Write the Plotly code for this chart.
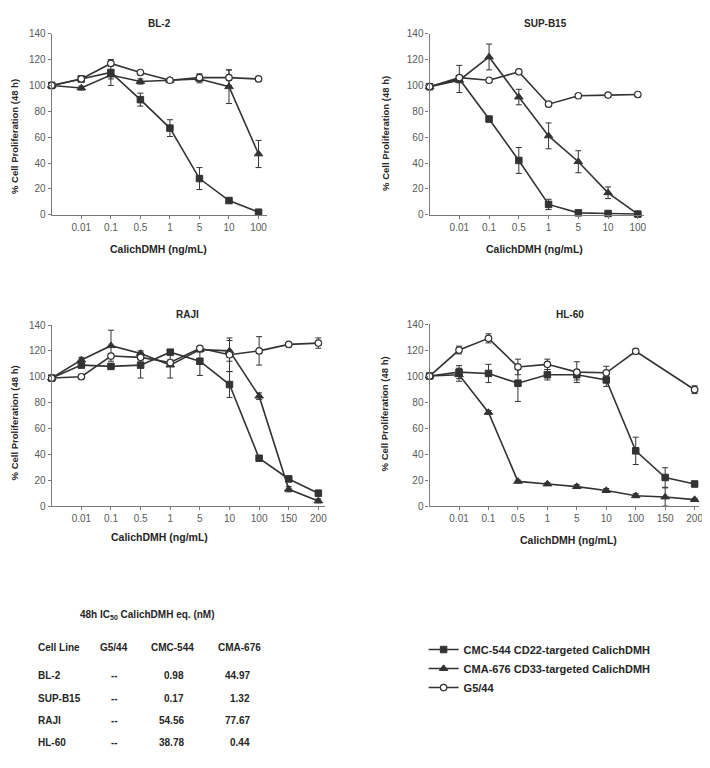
import plotly.graph_objects as go

# The page body has an 8px margin; the figure is sized so that it fits the 710x768 window.
OFF = 8
W, H = 710 - OFF, 768 - OFF

# ---------------- data ----------------
# Concentration categories (ng/mL); first category = untreated control (blank label)
conc_short = ["", "0.01", "0.1", "0.5", "1", "5", "10", "100"]
conc_long = ["", "0.01", "0.1", "0.5", "1", "5", "10", "100", "150", "200"]

# BL-2
bl2_cmc = [100, 105, 110, 89, 67, 28, 11, 2]
bl2_cmc_err = [1, 1.5, 10, 5, 6.5, 8.5, 2, 1]
bl2_cma = [100, 98, 108, 103, 104, 105, 99, 47]
bl2_cma_err = [1, 1.5, 3, 2, 1.5, 3, 13, 10.5]
bl2_g5 = [100, 105, 117, 110, 104, 106, 106, 105]
bl2_g5_err = [1, 1.5, 1.5, 1, 1, 3, 6, 1]

# SUP-B15
sup_cmc = [99, 105, 74, 42, 8, 1.5, 1, 0.5]
sup_cmc_err = [1, 10.5, 1.5, 10, 4, 1, 1, 0.5]
sup_cma = [99, 104, 122, 91, 61, 41, 17, 0.5]
sup_cma_err = [1, 2, 10, 6, 10, 8.5, 4.5, 0.5]
sup_g5 = [99, 106, 104, 110.5, 85.5, 92, 92.5, 93]
sup_g5_err = [1, 1, 1, 1, 1, 1, 1, 1]

# RAJI
raji_cmc = [99, 109, 108, 109, 119, 112, 94, 37, 21, 10]
raji_cmc_err = [1, 2, 2, 10, 2, 11, 10, 1.5, 2, 2]
raji_cma = [99, 113, 124, 118, 109, 121, 120, 85, 13, 4]
raji_cma_err = [1, 2, 12, 2, 10, 2, 8, 2.5, 2, 1.5]
raji_g5 = [99, 100, 116, 115, 111, 122, 117, 120, 125, 126]
raji_g5_err = [1, 1, 2, 2, 2, 1.5, 13, 11, 1.5, 4]

# HL-60
hl_cmc = [100, 103, 102, 94.5, 101, 101, 97, 42.5, 22, 17]
hl_cmc_err = [1, 5, 7, 14, 4, 4, 5, 10.5, 7.5, 2]
hl_cma = [100, 101, 72, 19, 17, 15, 12, 8, 7, 5]
hl_cma_err = [1, 5, 1.5, 1, 1, 1.5, 1.5, 1.5, 7, 1]
hl_g5 = [100, 120, 129, 107, 109, 103, 102.5, 119, None, 89.5]
hl_g5_err = [1, 3, 3.5, 6, 4, 8, 5, 2, 0, 3]

# IC50 table
ic50_lines = ["BL-2", "SUP-B15", "RAJI", "HL-60"]
ic50_g5 = ["--", "--", "--", "--"]
ic50_cmc = ["0.98", "0.17", "54.56", "38.78"]
ic50_cma = ["44.97", "1.32", "77.67", "0.44"]

series_names = ["CMC-544 CD22-targeted CalichDMH",
                "CMA-676 CD33-targeted CalichDMH",
                "G5/44"]

panels = [
    dict(title="BL-2", cats=conc_short, data=[(bl2_cmc, bl2_cmc_err), (bl2_cma, bl2_cma_err), (bl2_g5, bl2_g5_err)],
         x0=52, x1=268, yt=28, yb=212, xmax=7.27,
         tpos=(160, 18), xtpos=(159, 247), ytpos=(14, 132)),
    dict(title="SUP-B15", cats=conc_short, data=[(sup_cmc, sup_cmc_err), (sup_cma, sup_cma_err), (sup_g5, sup_g5_err)],
         x0=432, x1=648, yt=28, yb=212, xmax=7.22,
         tpos=(549, 18), xtpos=(538, 247), ytpos=(387, 129)),
    dict(title="RAJI", cats=conc_long, data=[(raji_cmc, raji_cmc_err), (raji_cma, raji_cma_err), (raji_g5, raji_g5_err)],
         x0=52, x1=327, yt=324, yb=508, xmax=9.23,
         tpos=(189, 313), xtpos=(160, 539), ytpos=(14, 423)),
    dict(title="HL-60", cats=conc_long, data=[(hl_cmc, hl_cmc_err), (hl_cma, hl_cma_err), (hl_g5, hl_g5_err)],
         x0=432, x1=703, yt=323, yb=508, xmax=9.15,
         tpos=(573, 313), xtpos=(572, 542), ytpos=(387, 414)),
]

LINE = "#333333"
AXIS = "#7a7a7a"
TICK = "#595959"
TXT = "#262626"
FONT = "Liberation Sans, Arial, sans-serif"

def px_x(p):
    return (p - OFF) / W

def px_y(p):
    return 1 - (p - OFF) / H

markers = [
    dict(symbol="square", size=6.5, color=LINE, line=dict(color=LINE, width=1)),
    dict(symbol="triangle-up", size=7.5, color=LINE, line=dict(color=LINE, width=1)),
    dict(symbol="circle", size=6.5, color="white", line=dict(color=LINE, width=1.2)),
]

fig = go.Figure()
annotations = []
layout_axes = {}

for i, p in enumerate(panels):
    n = i + 1
    xa = "x" if n == 1 else f"x{n}"
    ya = "y" if n == 1 else f"y{n}"
    xs = list(range(len(p["cats"])))
    for j, (vals, err) in enumerate(p["data"]):
        fig.add_trace(go.Scatter(
            x=xs, y=vals, xaxis=xa, yaxis=ya,
            mode="lines+markers", name=series_names[j],
            showlegend=(i == 0), connectgaps=True, cliponaxis=False,
            line=dict(color=LINE, width=1.6),
            marker=markers[j],
            error_y=dict(type="data", array=err, visible=True, color=LINE, thickness=1, width=3),
        ))
    xkey = "xaxis" if n == 1 else f"xaxis{n}"
    ykey = "yaxis" if n == 1 else f"yaxis{n}"
    layout_axes[xkey] = dict(
        domain=[px_x(p["x0"]), min(1, px_x(p["x1"]))], anchor=ya,
        range=[0, p["xmax"]], tickmode="array", tickvals=xs[1:], ticktext=p["cats"][1:],
        showgrid=False, zeroline=False, showline=True, linecolor=AXIS, linewidth=1.2,
        ticks="outside", ticklen=3, tickcolor=AXIS,
        tickfont=dict(family=FONT, size=10, color=TICK),
    )
    layout_axes[ykey] = dict(
        domain=[px_y(p["yb"]), px_y(p["yt"])], anchor=xa,
        range=[0, 140], tickmode="array", tickvals=list(range(0, 141, 20)),
        showgrid=False, zeroline=False, showline=True, linecolor=AXIS, linewidth=1.2,
        ticks="outside", ticklen=3, tickcolor=AXIS,
        tickfont=dict(family=FONT, size=10, color=TICK),
    )
    common = dict(xref="paper", yref="paper", showarrow=False, xanchor="center", yanchor="middle")
    annotations.append(dict(text=f"<b>{p['title']}</b>", x=px_x(p["tpos"][0]), y=px_y(p["tpos"][1]),
                            font=dict(family=FONT, size=10, color=TXT), **common))
    annotations.append(dict(text="<b>CalichDMH (ng/mL)</b>", x=px_x(p["xtpos"][0]), y=px_y(p["xtpos"][1]),
                            font=dict(family=FONT, size=10.5, color=TXT), **common))
    annotations.append(dict(text="<b>% Cell Proliferation (48 h)</b>", x=px_x(p["ytpos"][0]),
                            y=px_y(p["ytpos"][1]), textangle=-90,
                            font=dict(family=FONT, size=9.5, color=TXT), **common))

# ---------------- IC50 table ----------------
def tann(text, x, y, xanchor="center"):
    annotations.append(dict(text=f"<b>{text}</b>", x=px_x(x), y=px_y(y), xref="paper", yref="paper",
                            xanchor=xanchor, yanchor="middle", showarrow=False,
                            font=dict(family=FONT, size=10, color=TXT)))

tann("48h IC<sub>50</sub> CalichDMH eq. (nM)", 148, 619)
tann("Cell Line", 36, 652, "left")
tann("G5/44", 115, 652)
tann("CMC-544", 173, 652)
tann("CMA-676", 241, 652)
row_y = [680, 703, 726, 748]
for k, name in enumerate(ic50_lines):
    tann(name, 36, row_y[k], "left")
    tann(ic50_g5[k], 115, row_y[k])
    tann(ic50_cmc[k], 187, row_y[k], "right")
    tann(ic50_cma[k], 253, row_y[k], "right")

fig.update_layout(
    width=W, height=H, margin=dict(l=0, r=0, t=0, b=0),
    paper_bgcolor="white", plot_bgcolor="white",
    font=dict(family=FONT, size=10, color=TXT),
    annotations=annotations,
    legend=dict(x=px_x(426), y=px_y(639), xanchor="left", yanchor="top",
                font=dict(family=FONT, size=11, color=TXT, weight="bold"),
                itemwidth=30, tracegroupgap=0, bgcolor="rgba(0,0,0,0)"),
    **layout_axes,
)

fig.write_html("out.html")
